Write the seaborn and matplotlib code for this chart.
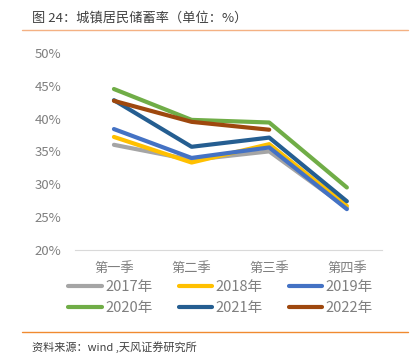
import pandas as pd
import numpy as np
import matplotlib
matplotlib.use("Agg")
import matplotlib.pyplot as plt
import seaborn as sns
from matplotlib.lines import Line2D

quarters = ["第一季", "第二季", "第三季", "第四季"]
years = ["2017年", "2018年", "2019年", "2020年", "2021年", "2022年"]
rate_2017 = [36.0, 33.7, 35.0, 26.4]
rate_2018 = [37.2, 33.3, 36.1, 26.7]
rate_2019 = [38.4, 34.0, 35.6, 26.2]
rate_2020 = [44.5, 39.8, 39.4, 29.5]
rate_2021 = [42.8, 35.7, 37.1, 27.4]
rate_2022 = [42.7, 39.5, 38.3, np.nan]
colors = ["#A5A5A5", "#FFC000", "#4472C4", "#70AD47", "#255E91", "#9E480E"]

rows = []
for yr, vals in zip(years, [rate_2017, rate_2018, rate_2019, rate_2020, rate_2021, rate_2022]):
    for q, v in zip(quarters, vals):
        rows.append({"季度": q, "年份": yr, "储蓄率": v})
df = pd.DataFrame(rows).dropna()

sns.set_style("white")
plt.rcParams["font.family"] = ["Noto Sans CJK SC", "DejaVu Sans"]

fig = plt.figure(figsize=(4.15, 3.6), dpi=100)
ax = fig.add_axes([0.181, 0.306, 0.739, 0.547])

sns.lineplot(data=df, x="季度", y="储蓄率", hue="年份", hue_order=years,
             palette=colors, linewidth=3, sort=False, ax=ax, legend=False)

ax.set_ylim(20, 50)
ax.set_xlim(-0.5, 3.45)
ax.set_yticks(range(20, 51, 5))
ax.set_yticklabels([f"{t}%" for t in range(20, 51, 5)])
ax.set_xlabel("")
ax.set_ylabel("")
for s in ["top", "right", "left"]:
    ax.spines[s].set_visible(False)
ax.spines["bottom"].set_color("#D9D9D9")
ax.tick_params(axis="both", length=0, labelsize=9.5, colors="#7F7F7F")
ax.tick_params(axis="y", pad=10)
ax.tick_params(axis="x", pad=9)

# legend filled row by row like the original (matplotlib fills by column)
order = [0, 3, 1, 4, 2, 5]
handles = [Line2D([0], [0], color=colors[i], lw=3) for i in order]
labels = [years[i] for i in order]
fig.legend(handles, labels, loc="center", bbox_to_anchor=(0.531, 0.173), ncol=3,
           frameon=False, fontsize=10.5, handlelength=2.3, handletextpad=0.2,
           columnspacing=1.8, labelspacing=0.45, labelcolor="#7F7F7F")

fig.text(32 / 415, 1 - 18 / 360, "图 24：城镇居民储蓄率（单位：%）", fontsize=9.5,
         color="#404040", va="center", ha="left")
fig.add_artist(Line2D([22 / 415, 408 / 415], [1 - 30 / 360, 1 - 30 / 360],
                      color="#F4B183", lw=1))
fig.add_artist(Line2D([22 / 415, 408 / 415], [1 - 332 / 360, 1 - 332 / 360],
                      color="#F08A30", lw=1))
fig.text(32 / 415, 1 - 347 / 360, "资料来源：wind ,天风证券研究所", fontsize=8,
         color="#404040", va="center", ha="left")

fig.savefig("out.png", dpi=100)
